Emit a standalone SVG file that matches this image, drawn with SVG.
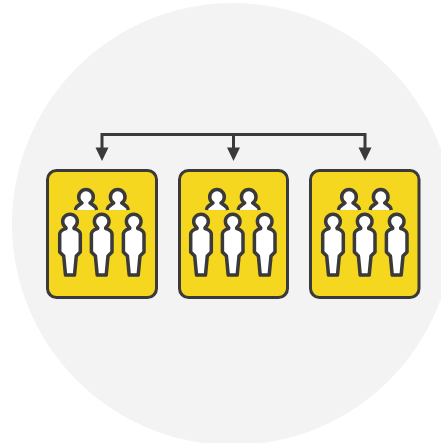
<svg xmlns="http://www.w3.org/2000/svg" width="441" height="443" viewBox="0 0 441 443">
<style>
.card{fill:#f6d71f;stroke:#3a3a3a;stroke-width:3}
.p{fill:#fff;stroke:#3a3a3a;stroke-width:3.500;stroke-linejoin:round}
.w{fill:none;stroke:#3a3a3a;stroke-width:3}
.h{fill:#3a3a3a}
</style>
<defs>
<g id="back">
<path class="p" d="M-10.500 14 C-10 9.500 -6.500 9 -4 7 A7.300 7.300 0 1 1 4 7 C6.500 9 10 9.500 10.500 14"/>
<rect x="-8.500" y="12.500" width="17" height="1.500" fill="#fff"/>
</g>
<g id="front">
<path class="p" d="M-4 6.600 A7.300 7.300 0 1 1 4 6.600 L4 7.500 C7 8.500 10.300 9.500 10.300 13 L10.300 31 L6.300 35 L4.500 54 L-4.500 54 L-6.300 35 L-10.300 31 L-10.300 13 C-10.300 9.500 -7 8.500 -4 7.500 Z"/>
</g>
<g id="people">
<use href="#back" x="39" y="26"/>
<use href="#back" x="70.700" y="26"/>
<use href="#front" x="23" y="51"/>
<use href="#front" x="54.700" y="51"/>
<use href="#front" x="86.700" y="51"/>
</g>
</defs>
<circle id="background" cx="233" cy="224" r="221" fill="#f3f3f3"/>
<g id="connectors">
<path class="w" d="M102 149V134.500H365V149M233.500 134.500V149"/>
<path class="h" d="M95.500 147.500H108.500L102 161ZM227 147.500H240L233.500 161ZM358.500 147.500H371.500L365 161Z"/>
</g>
<g id="group-1">
<rect class="card" x="47.500" y="170.500" width="109" height="127" rx="9"/>
<use href="#people" x="47" y="170"/>
</g>
<g id="group-2">
<rect class="card" x="179.500" y="170.500" width="108" height="127" rx="9"/>
<use href="#people" x="178" y="170"/>
</g>
<g id="group-3">
<rect class="card" x="310.500" y="170.500" width="108.500" height="127" rx="9"/>
<use href="#people" x="310" y="170"/>
</g>
</svg>
